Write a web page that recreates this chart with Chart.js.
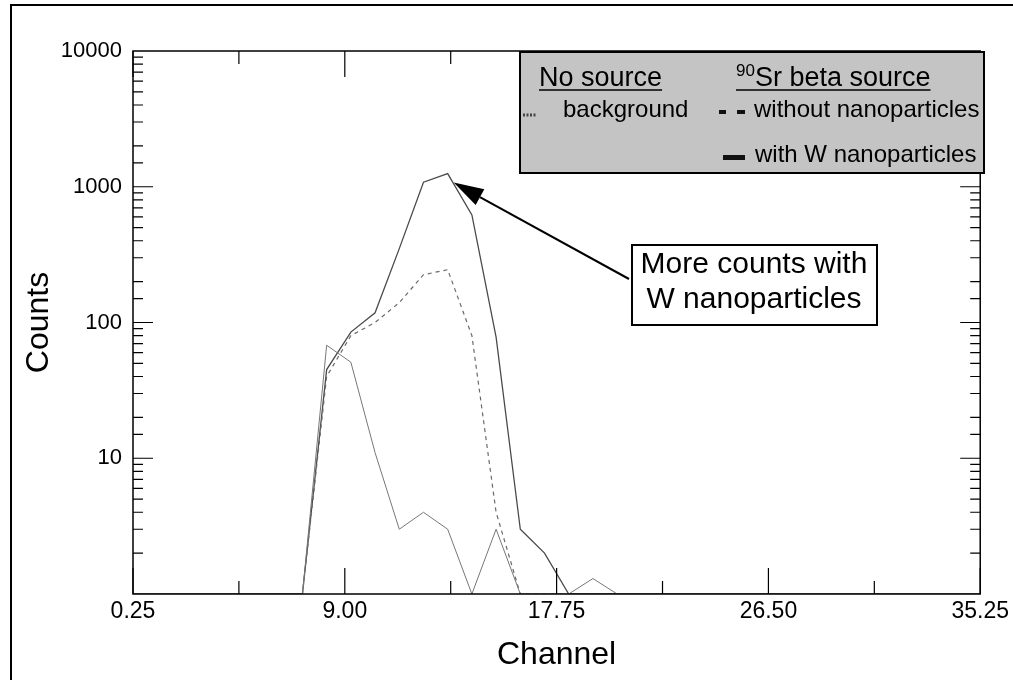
<!DOCTYPE html>
<html>
<head>
<meta charset="utf-8">
<script src="https://cdn.jsdelivr.net/npm/chart.js@4"></script>
<style>
  html, body { margin: 0; padding: 0; background: #fff; }
  #wrap { width: 1013px; height: 680px; position: relative; }
</style>
</head>
<body>
<div id="wrap"><canvas id="spectrum"></canvas></div>
<script>
const channels = [0.25, 1.25, 2.25, 3.25, 4.25, 5.25, 6.25, 7.25, 8.25, 9.25, 10.25, 11.25,
                  12.25, 13.25, 14.25, 15.25, 16.25, 17.25, 18.25, 19.25, 20.25, 21.25, 22.25, 23.25,
                  24.25, 25.25, 26.25, 27.25, 28.25, 29.25, 30.25, 31.25, 32.25, 33.25, 34.25, 35.25];
const backgroundCounts = [0, 0, 0, 0, 0, 0, 0, 0, 68, 51, 11, 3,
                          4, 3, 0, 3, 0, 0, 0, 1.3, 0, 0, 0, 0,
                          0, 0, 0, 0, 0, 0, 0, 0, 0, 0, 0, 0];
const withoutNpCounts  = [0, 0, 0, 0, 0, 0, 0, 0, 40, 80, 100, 140,
                          225, 245, 80, 4, 0, 0, 0, 0, 0, 0, 0, 0,
                          0, 0, 0, 0, 0, 0, 0, 0, 0, 0, 0, 0];
const withWNpCounts    = [0, 0, 0, 0, 0, 0, 0, 0, 45, 85, 118, 350,
                          1080, 1250, 620, 78, 3, 2, 0, 0, 0, 0, 0, 0,
                          0, 0, 0, 0, 0, 0, 0, 0, 0, 0, 0, 0];

const xTickValues = [0.25, 4.625, 9.00, 13.375, 17.75, 22.125, 26.50, 30.875, 35.25];
const xTickLabels = ['0.25', '', '9.00', '', '17.75', '', '26.50', '', '35.25'];
const yTickLabels = ['10', '100', '1000', '10000'];
const Y_MIN = 1;
const Y_MAX = 10000;

const FONT = '"Liberation Sans", Arial, Helvetica, sans-serif';

// log axis cannot show 0, so empty bins sit on the floor like the original plot
function toPoints(counts) {
    return channels.map((c, i) => ({ x: c, y: Math.max(counts[i], Y_MIN) }));
}

const decorations = {
    id: 'decorations',
    afterDraw(chart) {
        const { ctx, chartArea: a, scales: { x, y } } = chart;
        ctx.save();

        // outer page frame
        ctx.strokeStyle = '#000';
        ctx.lineWidth = 2;
        ctx.beginPath();
        ctx.moveTo(11, 680); ctx.lineTo(11, 5); ctx.lineTo(1013, 5);
        ctx.stroke();

        // plot box
        ctx.lineWidth = 1.5;
        ctx.strokeRect(a.left, a.top, a.right - a.left, a.bottom - a.top);

        // inward tick marks on all four sides
        ctx.lineWidth = 1.2;
        ctx.beginPath();
        x.ticks.forEach((t, i) => {
            const px = x.getPixelForValue(t.value);
            const len = xTickLabels[i] ? 26 : 13;
            ctx.moveTo(px, a.bottom); ctx.lineTo(px, a.bottom - len);
            ctx.moveTo(px, a.top); ctx.lineTo(px, a.top + len);
        });
        y.ticks.forEach(t => {
            if (t.value <= Y_MIN || t.value >= Y_MAX) return;
            const py = y.getPixelForValue(t.value);
            const len = yTickLabels.includes(String(t.value)) ? 20 : 10;
            ctx.moveTo(a.left, py); ctx.lineTo(a.left + len, py);
            ctx.moveTo(a.right, py); ctx.lineTo(a.right - len, py);
        });
        ctx.stroke();

        // legend panel
        const ds = chart.data.datasets;
        ctx.fillStyle = '#c4c4c4';
        ctx.fillRect(520, 52, 464, 121);
        ctx.lineWidth = 2;
        ctx.strokeStyle = '#000';
        ctx.strokeRect(520, 52, 464, 121);

        ctx.fillStyle = '#000';
        ctx.textBaseline = 'alphabetic';
        ctx.textAlign = 'left';
        ctx.font = '27px ' + FONT;
        ctx.fillText('No source', 539, 86);
        const w1 = ctx.measureText('No source').width;
        ctx.font = '17px ' + FONT;
        ctx.fillText('90', 736, 76);
        const sup = ctx.measureText('90').width;
        ctx.font = '27px ' + FONT;
        ctx.fillText('Sr beta source', 736 + sup, 86);
        const w2 = sup + ctx.measureText('Sr beta source').width;
        ctx.lineWidth = 1.5;
        ctx.beginPath();
        ctx.moveTo(539, 90); ctx.lineTo(539 + w1, 90);
        ctx.moveTo(736, 90); ctx.lineTo(736 + w2, 90);
        ctx.stroke();

        ctx.font = '24px ' + FONT;
        ctx.fillText(ds[0].label, 563, 117);
        ctx.fillText(ds[1].label, 754, 117);
        ctx.fillText(ds[2].label, 755, 162);

        // legend samples
        ctx.strokeStyle = '#444';
        ctx.lineWidth = 3;
        ctx.setLineDash([2, 1.5]);
        ctx.beginPath(); ctx.moveTo(523, 115); ctx.lineTo(537, 115); ctx.stroke();
        ctx.setLineDash([]);
        ctx.fillStyle = '#111';
        ctx.fillRect(719, 110, 7, 4);
        ctx.fillRect(737, 110, 8, 4);
        ctx.fillRect(723, 155, 22, 5);

        // annotation box
        ctx.fillStyle = '#fff';
        ctx.fillRect(632, 245, 245, 80);
        ctx.strokeStyle = '#000';
        ctx.lineWidth = 2;
        ctx.strokeRect(632, 245, 245, 80);
        ctx.fillStyle = '#000';
        ctx.font = '30px ' + FONT;
        ctx.textAlign = 'center';
        ctx.fillText('More counts with', 754, 273);
        ctx.fillText('W nanoparticles', 754, 308);

        // arrow to the peak of the W spectrum
        const peak = withWNpCounts.indexOf(Math.max(...withWNpCounts));
        const tipX = x.getPixelForValue(channels[peak]) + 6;
        const tipY = y.getPixelForValue(withWNpCounts[peak]) + 9;
        const fromX = 629, fromY = 279;
        const ang = Math.atan2(tipY - fromY, tipX - fromX);
        const headLen = 30, headW = 9;
        const bx = tipX - headLen * Math.cos(ang), by = tipY - headLen * Math.sin(ang);
        ctx.lineWidth = 2;
        ctx.beginPath(); ctx.moveTo(fromX, fromY); ctx.lineTo(bx, by); ctx.stroke();
        ctx.beginPath();
        ctx.moveTo(tipX, tipY);
        ctx.lineTo(bx + headW * Math.sin(ang), by - headW * Math.cos(ang));
        ctx.lineTo(bx - headW * Math.sin(ang), by + headW * Math.cos(ang));
        ctx.closePath();
        ctx.fill();

        ctx.restore();
    }
};

new Chart(document.getElementById('spectrum'), {
    type: 'line',
    data: {
        datasets: [
            {
                label: 'background',
                data: toPoints(backgroundCounts),
                borderColor: '#777',
                borderWidth: 1,
                pointRadius: 0,
                tension: 0
            },
            {
                label: 'without nanoparticles',
                data: toPoints(withoutNpCounts),
                borderColor: '#6a6a6a',
                borderWidth: 1.2,
                borderDash: [4, 4],
                pointRadius: 0,
                tension: 0
            },
            {
                label: 'with W nanoparticles',
                data: toPoints(withWNpCounts),
                borderColor: '#4a4a4a',
                borderWidth: 1.3,
                pointRadius: 0,
                tension: 0
            }
        ]
    },
    options: {
        responsive: true,
        maintainAspectRatio: false,
        animation: false,
        devicePixelRatio: 1,
        layout: { padding: { top: 51, right: 31, bottom: 0, left: 0 } },
        plugins: {
            legend: { display: false },
            tooltip: { enabled: false }
        },
        scales: {
            x: {
                type: 'linear',
                min: xTickValues[0],
                max: xTickValues[xTickValues.length - 1],
                afterBuildTicks: s => { s.ticks = xTickValues.map(v => ({ value: v })); },
                afterFit: s => { s.height = 86; },
                grid: { display: false, drawTicks: false },
                border: { display: false },
                ticks: {
                    autoSkip: false,
                    maxRotation: 0,
                    padding: 4,
                    color: '#000',
                    font: { family: FONT, size: 23 },
                    callback: (v, i) => xTickLabels[i]
                },
                title: {
                    display: true,
                    text: 'Channel',
                    color: '#000',
                    font: { family: FONT, size: 32 },
                    padding: { top: 0, bottom: 6 }
                }
            },
            y: {
                type: 'logarithmic',
                min: Y_MIN,
                max: Y_MAX,
                afterFit: s => { s.width = 133; },
                grid: { display: false, drawTicks: false },
                border: { display: false },
                ticks: {
                    autoSkip: false,
                    padding: 11,
                    color: '#000',
                    font: { family: FONT, size: 22 },
                    callback: v => (yTickLabels.includes(String(v)) ? String(v) : '')
                },
                title: {
                    display: true,
                    text: 'Counts',
                    color: '#000',
                    font: { family: FONT, size: 32 },
                    padding: { top: 20, bottom: 0 }
                }
            }
        }
    },
    plugins: [decorations]
});
</script>
</body>
</html>
